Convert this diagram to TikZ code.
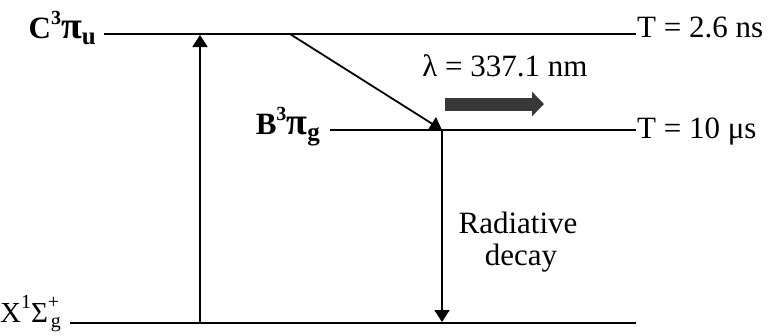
\documentclass[tikz,border=0pt]{standalone}
\usepackage{fontspec}
\setmainfont{Liberation Serif}
\usetikzlibrary{arrows.meta}
\tikzset{
  level/.style={line width=2pt},
  tri/.style={-{Triangle[width=15pt,length=12pt]}, line width=1.8pt},
  txt/.style={inner sep=0pt, font=\fontsize{31}{36}\selectfont},
  state/.style={inner sep=0pt, font=\fontsize{31}{36}\selectfont, anchor=base east}
}
\newcommand{\supx}[1]{\raisebox{0.45em}{\fontsize{20}{22}\selectfont #1}}
\newcommand{\subx}[1]{\raisebox{-0.2em}{\fontsize{25}{28}\selectfont #1}}
\newcommand{\bigpi}{{\fontsize{38}{40}\selectfont π}}
\begin{document}
\begin{tikzpicture}[x=1pt,y=-1pt]
\useasboundingbox (0,0) rectangle (771,335);
% levels
\coordinate (c0) at (104,34); \coordinate (c1) at (636,34);
\coordinate (b0) at (330,130); \coordinate (b1) at (636,130);
\coordinate (x0) at (70,323); \coordinate (x1) at (636,323);
\draw[level] (c0) -- (c1);
\draw[level] (b0) -- (b1);
\draw[level] (x0) -- (x1);
% state labels
\node[state] (lc) at (96,38) {\textbf{C\supx{\textbf{3}}\bigpi\subx{\textbf{u}}}};
\node[state] (lb) at (320,134) {\textbf{B\supx{\textbf{3}}\bigpi\subx{\textbf{g}}}};
\node[state, font=\fontsize{29}{34}\selectfont] (lx) at (61,322) {X\supx{1}Σ\rlap{\supx{+}}\raisebox{-0.18em}{\hspace{0.1em}\fontsize{20}{22}\selectfont g}};
% lifetimes
\node[txt, anchor=base west] (tc) at (637,37) {T = 2.6 ns};
\node[txt, anchor=base west] (tb) at (637,138) {T = 10 μs};
% transitions
\coordinate (up0) at (200,323); \coordinate (up1) at (200,35);
\draw[tri] (up0) -- (up1);
\coordinate (d0) at (290,34); \coordinate (d1) at (442,130);
\draw[tri] (d0) -- (d1);
\coordinate (r0) at (442,130); \coordinate (r1) at (442,322);
\draw[tri] (r0) -- (r1);
% wavelength
\node[txt, anchor=base] (lam) at (505,76) {λ = 337.1 nm};
\coordinate (g0) at (445,104); \coordinate (g1) at (544,104);
\draw[line width=13pt, draw=black!78, -{Triangle[width=24pt,length=12pt]}] (g0) -- (g1);
% decay text
\node[txt, anchor=base] (rad) at (518,233) {Radiative};
\node[txt, anchor=base] (dec) at (521,265) {decay};
\end{tikzpicture}
\end{document}
